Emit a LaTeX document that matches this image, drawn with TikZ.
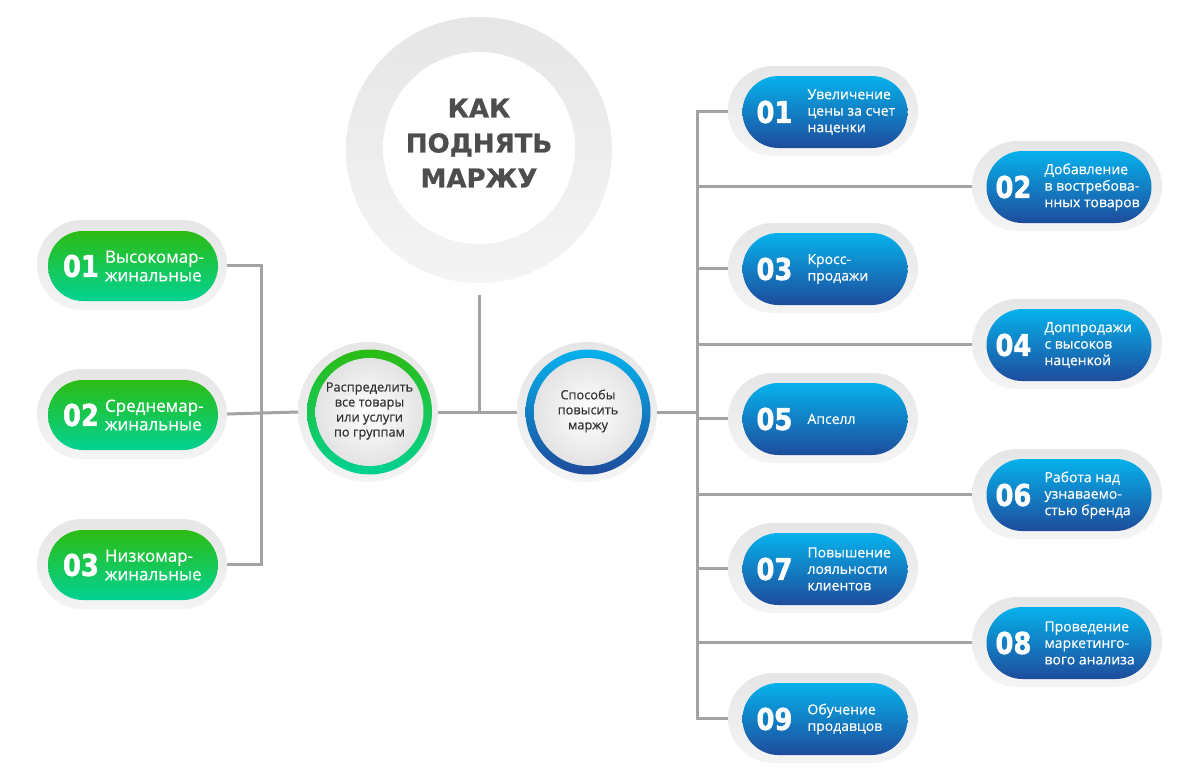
\documentclass[tikz,border=0pt]{standalone}
\usepackage{fontspec}
\setmainfont{Open Sans}
\newfontfamily\txtfont[FakeBold=0.5]{Open Sans}
\newfontfamily\numfont[FakeStretch=0.86,FakeBold=1.6]{DejaVu Sans}
\newfontfamily\titlefont[FakeBold=0.8]{DejaVu Sans}
\definecolor{btop}{HTML}{06B2EC}
\definecolor{bbot}{HTML}{1E4C9C}
\definecolor{gtop}{HTML}{2CBC14}
\definecolor{gbot}{HTML}{02D293}
\definecolor{linegray}{HTML}{A3A3A3}
\definecolor{ringtop}{HTML}{E6E6E6}
\definecolor{ringbot}{HTML}{F4F4F4}
\definecolor{darktxt}{HTML}{333333}
\definecolor{titletxt}{HTML}{4D4D4D}
\tikzset{
  ringpill/.style={rectangle, rounded corners=45pt, minimum width=190pt, minimum height=90pt, inner sep=0pt, top color=ringtop, bottom color=ringbot},
  bluepill/.style={rectangle, rounded corners=36pt, minimum width=165pt, minimum height=72pt, inner sep=0pt, top color=btop, bottom color=bbot},
  greenpill/.style={rectangle, rounded corners=35pt, minimum width=170pt, minimum height=70pt, inner sep=0pt, top color=gtop, bottom color=gbot},
  numtxt/.style={inner sep=0pt, text=white, font=\numfont\bfseries\fontsize{30}{30}\selectfont},
  pilltxt/.style={inner sep=0pt, text=white, align=left, font=\txtfont\fontsize{14}{16.5}\selectfont},
  gpilltxt/.style={inner sep=0pt, text=white, align=left, font=\txtfont\fontsize{17}{18.5}\selectfont},
  circtxt/.style={inner sep=0pt, text=darktxt, align=center, font=\txtfont\fontsize{12.8}{15}\selectfont},
  titlestyle/.style={inner sep=0pt, text=titletxt, align=center, font=\titlefont\bfseries\fontsize{26}{35}\selectfont},
  conn/.style={draw=linegray, line width=3pt},
}
% odd (inner column) blue pill
\newcommand\rpill[5]{%
  \node[ringpill] (#1) at (#2-2,#3-1) {};
  \node[bluepill] (#1c) at (#2,#3) {};
  \node[numtxt, anchor=west] (#1n) at ([xshift=14pt]#1c.west) {#4};
  \node[pilltxt, anchor=west] (#1t) at ([xshift=65pt]#1c.west) {#5};
}
% even (outer column) blue pill
\newcommand\epill[5]{%
  \node[ringpill] (#1) at (#2-2,#3-1) {};
  \node[bluepill] (#1c) at (#2,#3) {};
  \node[numtxt, anchor=west] (#1n) at ([xshift=9pt]#1c.west) {#4};
  \node[pilltxt, anchor=west] (#1t) at ([xshift=58pt]#1c.west) {#5};
}
\newcommand\gpill[5]{%
  \node[ringpill] (#1) at (#2-1,#3-1) {};
  \node[greenpill] (#1c) at (#2,#3) {};
  \node[numtxt, anchor=west] (#1n) at ([xshift=15pt]#1c.west) {#4};
  \node[gpilltxt, anchor=west] (#1t) at ([xshift=57pt]#1c.west) {#5};
}
\begin{document}
\begin{tikzpicture}[x=1pt,y=-1pt]
\useasboundingbox[fill=white] (0,0) rectangle (1200,779);

% title circle
\node[circle, minimum size=266pt, inner sep=0pt, top color=ringtop, bottom color=ringbot] (T) at (479,150) {};
\node[circle, minimum size=192pt, inner sep=0pt, fill=white] (Ti) at (479,148) {};
\node[titlestyle] (Tt) at (479,143) {КАК\\ПОДНЯТЬ\\МАРЖУ};

% green circle
\node[circle, minimum size=140pt, inner sep=0pt, top color=ringtop, bottom color=ringbot] (G) at (368,412) {};
\node[circle, minimum size=125pt, inner sep=0pt, top color=gtop, bottom color=gbot] (Gr) at (369.5,412) {};
\node[circle, minimum size=108pt, inner sep=0pt, shading=radial, inner color=white, outer color=gray!22] (Gi) at (369.5,412) {};
\node[circtxt] (Gt) at (369.5,411) {Распределить\\все товары\\или услуги\\по группам};

% blue circle
\node[circle, minimum size=140pt, inner sep=0pt, top color=ringtop, bottom color=ringbot] (B) at (587,412) {};
\node[circle, minimum size=125pt, inner sep=0pt, top color=btop, bottom color=bbot] (Br) at (588,412) {};
\node[circle, minimum size=108pt, inner sep=0pt, shading=radial, inner color=white, outer color=gray!22] (Bi) at (588,412) {};
\node[circtxt] (Bt) at (588,411) {Способы\\повысить\\маржу};

% left pills
\gpill{L1}{133}{266}{01}{Высокомар-\\жинальные}
\gpill{L2}{133}{415}{02}{Среднемар-\\жинальные}
\gpill{L3}{133}{565}{03}{Низкомар-\\жинальные}

% right pills
\rpill{R1}{825}{112}{01}{Увеличение\\цены за счет\\наценки}
\epill{R2}{1069}{187}{02}{Добавление\\в востребова-\\нных товаров}
\rpill{R3}{825}{269}{03}{Кросс-\\продажи}
\epill{R4}{1069}{345}{04}{Доппродажи\\с высоков\\наценкой}
\rpill{R5}{825}{419}{05}{Апселл}
\epill{R6}{1069}{495}{06}{Работа над\\узнаваемо-\\стью бренда}
\rpill{R7}{825}{569}{07}{Повышение\\лояльности\\клиентов}
\epill{R8}{1069}{643}{08}{Проведение\\маркетинго-\\вого анализа}
\rpill{R9}{825}{719}{09}{Обучение\\продавцов}

% bus coordinates
\coordinate (bl) at (261,412);
\coordinate (tb) at (479,412);
\coordinate (br) at (697,412);

% left connectors
\draw[conn] (L1.east) -| (bl);
\draw[conn] (L3.east) -| (bl);
\draw[conn] (L2.east) -- (G.west);
% center connectors
\draw[conn] (G.east) -- (B.west);
\draw[conn] ([yshift=-12pt]T.south) -- (tb);
\draw[conn] (B.east) -- (br);
% right bus
\draw[conn] (R1.west) -| (br);
\draw[conn] (R9.west) -| (br);
\draw[conn] (R2.west) -- (R2.west -| br);
\draw[conn] (R3.west) -- (R3.west -| br);
\draw[conn] (R4.west) -- (R4.west -| br);
\draw[conn] (R5.west) -- (R5.west -| br);
\draw[conn] (R6.west) -- (R6.west -| br);
\draw[conn] (R7.west) -- (R7.west -| br);
\draw[conn] (R8.west) -- (R8.west -| br);
\end{tikzpicture}
\end{document}
